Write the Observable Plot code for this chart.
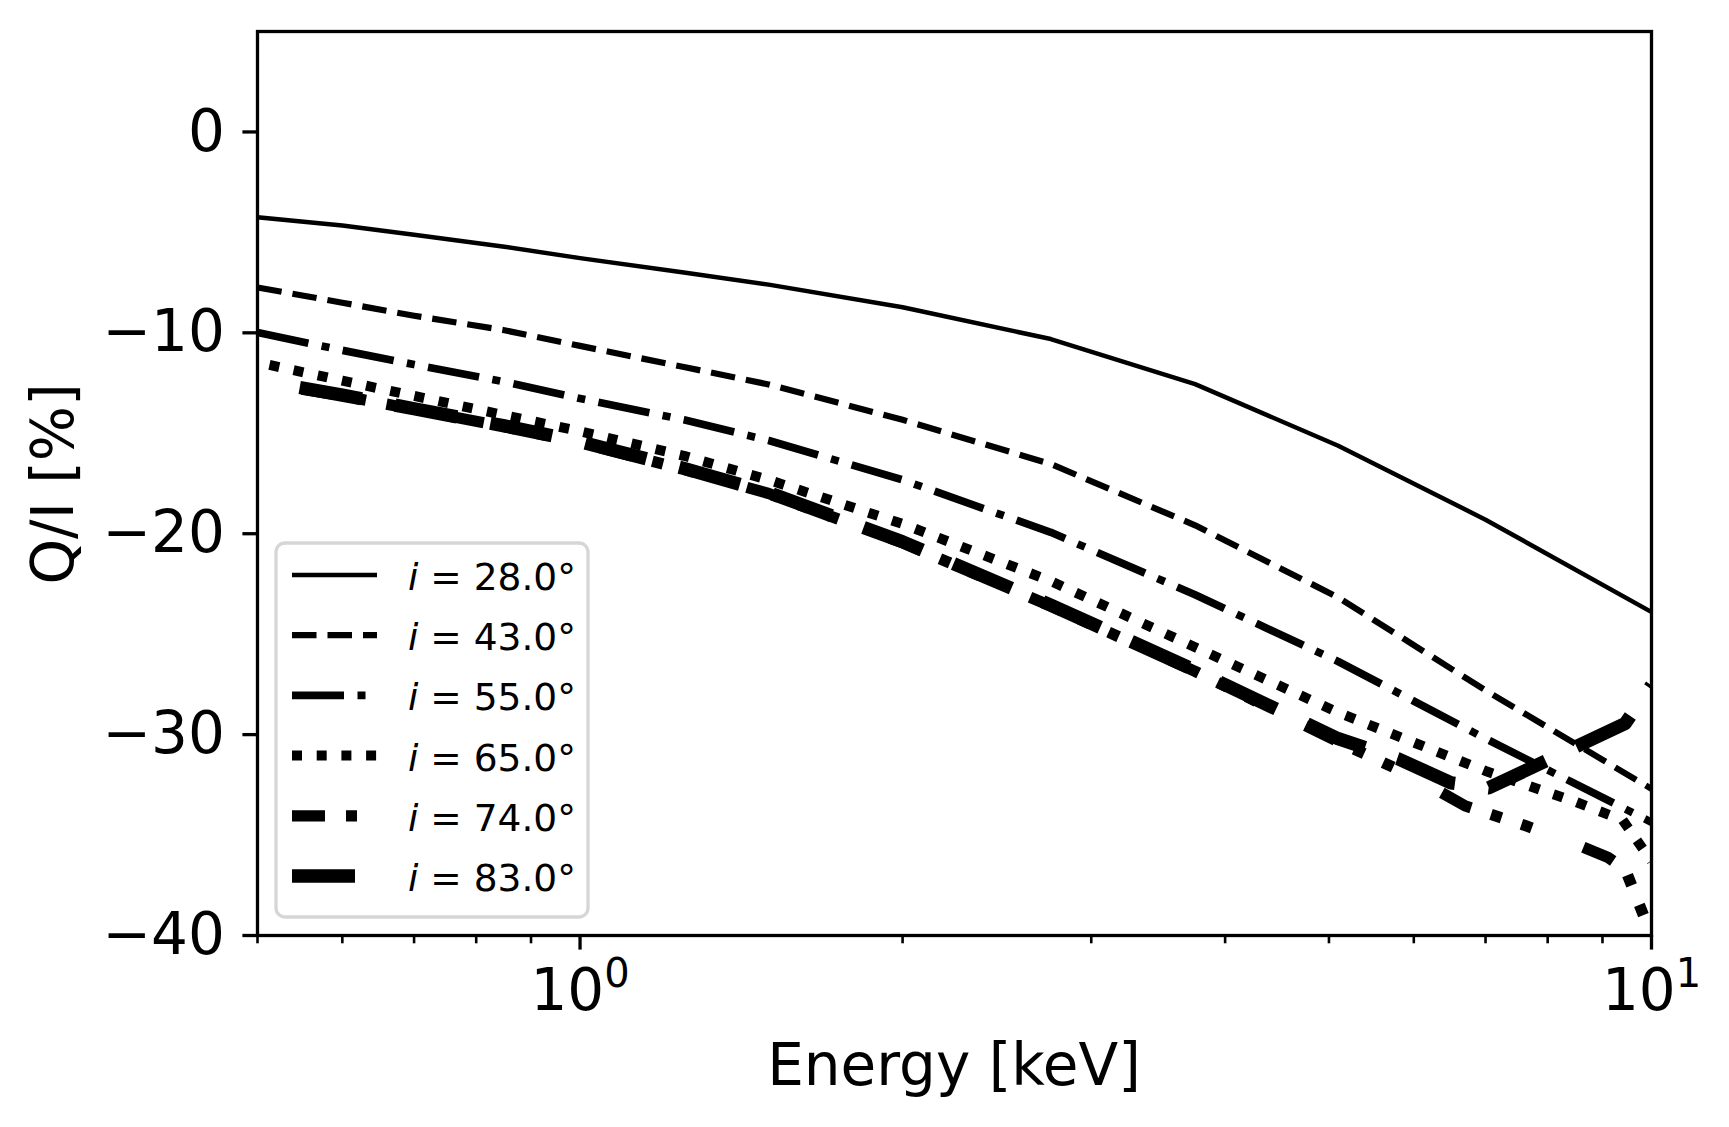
<!DOCTYPE html>
<html>
<head>
<meta charset="utf-8">
<script src="https://cdn.jsdelivr.net/npm/d3@7"></script>
<script src="https://cdn.jsdelivr.net/npm/@observablehq/plot@0.6"></script>
<style>
  html, body { margin: 0; padding: 0; background: #ffffff; }
  svg { display: block; }
</style>
</head>
<body>
<div id="chart"></div>
<script>
// ---- data ----
const inclinations = ["28.0", "43.0", "55.0", "65.0", "74.0", "83.0"];

const e28 = [0.5, 0.6, 0.7, 0.85, 1.0, 1.25, 1.5, 2.0, 2.75, 3.75, 5.1, 7.0, 10];
const q28 = [-4.25, -4.66, -5.12, -5.71, -6.28, -7.0, -7.6, -8.73, -10.31, -12.55, -15.62, -19.3, -23.9];

const e43 = [0.5, 0.6, 0.7, 0.85, 1.0, 1.25, 1.5, 2.0, 2.75, 3.75, 5.1, 7.0, 10];
const q43 = [-7.74, -8.5, -9.15, -9.87, -10.65, -11.7, -12.57, -14.33, -16.53, -19.58, -23.17, -27.8, -32.7];

const e55 = [0.5, 0.6, 0.7, 0.85, 1.0, 1.25, 1.5, 2.0, 2.75, 3.75, 5.1, 7.0, 10];
const q55 = [-9.98, -10.87, -11.58, -12.44, -13.27, -14.33, -15.36, -17.32, -19.93, -23.04, -26.36, -30.2, -34.36];

const e65 = [0.513, 0.6, 0.7, 0.85, 1.0, 1.25, 1.5, 2.0, 2.75, 3.75, 5.1, 7.0, 8.5, 9.4, 10];
const q65 = [-11.6, -12.38, -13.14, -14.1, -14.9, -16.12, -17.32, -19.51, -22.36, -25.65, -28.9, -31.81, -33.35, -34.26, -36.3];

const e74 = [0.55, 0.6, 0.7, 0.85, 1.0, 1.25, 1.5, 2.0, 2.75, 3.75, 5.1, 6.0, 6.7, 7.6, 8.5, 9.1, 9.45, 10];
const q74 = [-12.8, -13.13, -13.81, -14.67, -15.47, -16.8, -18.0, -20.45, -23.6, -26.85, -30.35, -32.1, -33.55, -34.5, -35.45, -36.1, -36.7, -40.0];

const e83 = [0.536, 0.6, 0.7, 0.85, 1.0, 1.25, 1.5, 2.0, 2.75, 3.75, 5.1, 5.8, 6.5, 7.05, 9.45, 10];
const q83 = [-12.63, -13.1, -13.78, -14.63, -15.42, -16.75, -17.95, -20.4, -23.55, -26.8, -30.2, -31.2, -32.4, -32.65, -29.45, -27.55];

const xMajorTicks = [1, 10];
const xMajorExponents = ["0", "1"];
const xMinorTicks = [0.5, 0.6, 0.7, 0.8, 0.9, 2, 3, 4, 5, 6, 7, 8, 9];
const yTicks = [-40, -30, -20, -10, 0];

// ---- styles ----
const energies = [e28, e43, e55, e65, e74, e83];
const values = [q28, q43, q55, q65, q74, q83];
const widths = [4.5, 6.2, 7.7, 10, 11.3, 13.3];
const dashes = [null, "24.5,11", "52,13.5,8,13.5", "10,14.7", "33,21,11,21,11,55", "63,34"];
const dashOffsets = [0, 0, 0, 0, 0, -10];
const caps = ["square", "butt", "butt", "butt", "butt", "butt"];
const font = "DejaVu Sans, Liberation Sans, sans-serif";

const lineMarks = inclinations.map((inc, k) => {
  const rows = energies[k].map((E, j) => ({E, Q: values[k][j]}));
  const opts = {
    x: "E", y: "Q", stroke: "black", strokeWidth: widths[k],
    strokeLinecap: caps[k], strokeLinejoin: "round", clip: true
  };
  if (dashes[k]) { opts.strokeDasharray = dashes[k]; opts.strokeDashoffset = dashOffsets[k]; }
  return Plot.line(rows, opts);
});

const chart = Plot.plot({
  width: 1729,
  height: 1127,
  marginLeft: 257,
  marginRight: 78,
  marginTop: 31,
  marginBottom: 192,
  style: {fontFamily: font, fontSize: "58px", background: "white", color: "black", overflow: "visible"},
  x: {type: "log", domain: [0.5, 10]},
  y: {type: "linear", domain: [-40, 5]},
  marks: [
    ...lineMarks,
    Plot.axisX({ticks: xMinorTicks, tickSize: 8.3, strokeWidth: 2.6, tickFormat: () => "", label: null}),
    Plot.axisX({ticks: xMajorTicks, tickSize: 14.6, tickPadding: 19, strokeWidth: 3.3, fontSize: 58,
      tickFormat: d => "10^" + xMajorExponents[xMajorTicks.indexOf(d)], label: null}),
    Plot.axisY({ticks: yTicks, tickSize: 14.6, tickPadding: 18, strokeWidth: 3.3, fontSize: 58,
      tickFormat: d => (d < 0 ? "\u2212" + Math.abs(d) : String(d)), label: null}),
    Plot.frame({stroke: "black", strokeWidth: 3.3})
  ]
});

document.getElementById("chart").appendChild(chart);

const svg = d3.select(chart);

// ---- superscript exponents on the log axis labels ----
svg.selectAll("text").each(function () {
  const m = /^10\^(\d)$/.exec(this.textContent);
  if (!m) return;
  const t = d3.select(this);
  t.text(null);
  t.append("tspan").text("10");
  t.append("tspan").attr("font-size", 40).attr("dy", -23).text(m[1]);
});

// ---- axis titles ----
svg.append("text")
  .attr("x", 954).attr("y", 1085)
  .attr("text-anchor", "middle")
  .attr("font-family", font).attr("font-size", 58).attr("fill", "black")
  .text("Energy [keV]");
svg.append("text")
  .attr("transform", "translate(73,484) rotate(-90)")
  .attr("text-anchor", "middle")
  .attr("font-family", font).attr("font-size", 58).attr("fill", "black")
  .text("Q/I [%]");

// ---- legend ----
const lg = svg.append("g");
lg.append("rect")
  .attr("x", 276).attr("y", 543).attr("width", 312).attr("height", 374)
  .attr("rx", 9).attr("ry", 9)
  .attr("fill", "white").attr("fill-opacity", 0.8)
  .attr("stroke", "#d6d6d6").attr("stroke-width", 3.3);
inclinations.forEach((inc, k) => {
  const yy = 575 + 60.2 * k;
  const ln = lg.append("line")
    .attr("x1", 292).attr("x2", 377).attr("y1", yy).attr("y2", yy)
    .attr("stroke", "black").attr("stroke-width", widths[k])
    .attr("stroke-linecap", "butt");
  if (dashes[k]) ln.attr("stroke-dasharray", dashes[k]);
  const t = lg.append("text")
    .attr("x", 408).attr("y", yy + 15)
    .attr("text-anchor", "start")
    .attr("font-family", font).attr("font-size", 37.5).attr("fill", "black");
  t.append("tspan").attr("font-style", "italic").text("i");
  t.append("tspan").text(" = " + inc + "°");
});
</script>
</body>
</html>
